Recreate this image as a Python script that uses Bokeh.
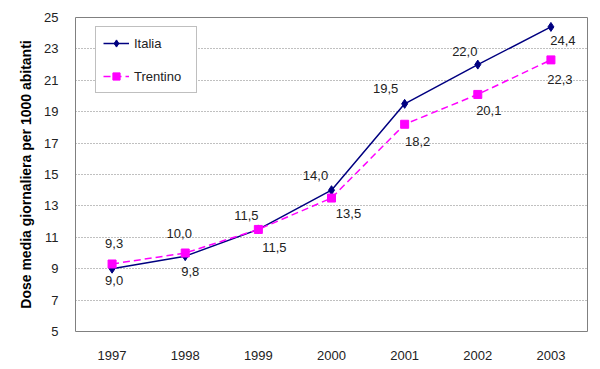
from bokeh.plotting import figure
from bokeh.models import ColumnDataSource, Range1d, FixedTicker, Legend, LegendItem
from bokeh.core.properties import value
from bokeh.embed import file_html
from bokeh.resources import INLINE

years = ["1997", "1998", "1999", "2000", "2001", "2002", "2003"]
italia = [9.0, 9.8, 11.5, 14.0, 19.5, 22.0, 24.4]
trentino = [9.3, 10.0, 11.5, 13.5, 18.2, 20.1, 22.3]
y_ticks = [5, 7, 9, 11, 13, 15, 17, 19, 21, 23, 25]
y_title = "Dose media giornaliera per 1000 abitanti"

# label placement (screen pixels, +dy = down), styling only
ita_dx = [2, 5, -12, -16, -19, -13, 12]
ita_dy = [12, 15, -14, -15, -15, -13, 14]
tre_dx = [2, -6, 16, 17, 13, 11, 9]
tre_dy = [-20, -20, 18, 15, 17, 16, 20]

FONT = "Liberation Sans"
FS = "13px"

def fmt(v):
    return f"{v:.1f}".replace(".", ",")

src_i = ColumnDataSource(dict(x=years, y=italia, t=[fmt(v) for v in italia], dx=ita_dx, dy=ita_dy))
src_t = ColumnDataSource(dict(x=years, y=trentino, t=[fmt(v) for v in trentino], dx=tre_dx, dy=tre_dy))

p = figure(width=600, height=369, x_range=years, y_range=Range1d(5, 25),
           output_backend="svg", toolbar_location=None,
           min_border_left=75, min_border_right=13, min_border_top=17, min_border_bottom=38)
p.background_fill_color = "white"
p.border_fill_color = "white"
p.outline_line_color = "#808080"
p.outline_line_width = 1

p.xgrid.grid_line_color = None
p.ygrid.grid_line_color = "#808080"
p.ygrid.grid_line_dash = "1 2"
p.ygrid.grid_line_width = 1

p.yaxis.ticker = FixedTicker(ticks=y_ticks)
p.yaxis.axis_line_color = None
p.yaxis.major_tick_line_color = None
p.yaxis.minor_tick_line_color = None
p.yaxis.major_label_text_font = FONT
p.yaxis.major_label_text_font_size = FS
p.yaxis.major_label_text_color = "#222222"
p.yaxis.major_label_standoff = 11
p.yaxis.axis_label = y_title
p.yaxis.axis_label_text_font = FONT
p.yaxis.axis_label_text_font_style = "bold"
p.yaxis.axis_label_text_font_size = "14px"
p.yaxis.axis_label_text_color = "black"
p.yaxis.axis_label_standoff = 7

p.xaxis.axis_line_color = None
p.xaxis.major_tick_line_color = None
p.xaxis.minor_tick_line_color = None
p.xaxis.major_label_text_font = FONT
p.xaxis.major_label_text_font_size = FS
p.xaxis.major_label_text_color = "#222222"
p.xaxis.major_label_standoff = 13

NAVY = "#000080"
MAG = "#FF00FF"

li = p.line("x", "y", source=src_i, line_color=NAVY, line_width=1.5)
mi = p.scatter("x", "y", source=src_i, marker="diamond", size=9, fill_color=NAVY, line_color=NAVY)
lt = p.line("x", "y", source=src_t, line_color=MAG, line_width=1.5, line_dash="7 4")
mt = p.scatter("x", "y", source=src_t, marker="square", size=8, fill_color=MAG, line_color=MAG)

for src in (src_i, src_t):
    p.text("x", "y", text="t", source=src, x_offset="dx", y_offset="dy",
           text_font=value(FONT), text_font_size=FS, text_color="#222222",
           text_align="center", text_baseline="middle")

legend = Legend(items=[LegendItem(label="Italia", renderers=[li, mi]),
                       LegendItem(label="Trentino", renderers=[lt, mt])],
                location=(20, 238))
legend.border_line_color = "#808080"
legend.border_line_width = 1
legend.background_fill_color = "white"
legend.background_fill_alpha = 1
legend.label_text_font = FONT
legend.label_text_font_size = FS
legend.label_text_color = "#222222"
legend.glyph_width = 26
legend.glyph_height = 18
legend.spacing = 15
legend.padding = 7
legend.margin = 0
legend.label_standoff = 5
legend.label_width = 55
p.add_layout(legend, "center")

open("out.html", "w").write(file_html(p, INLINE))
